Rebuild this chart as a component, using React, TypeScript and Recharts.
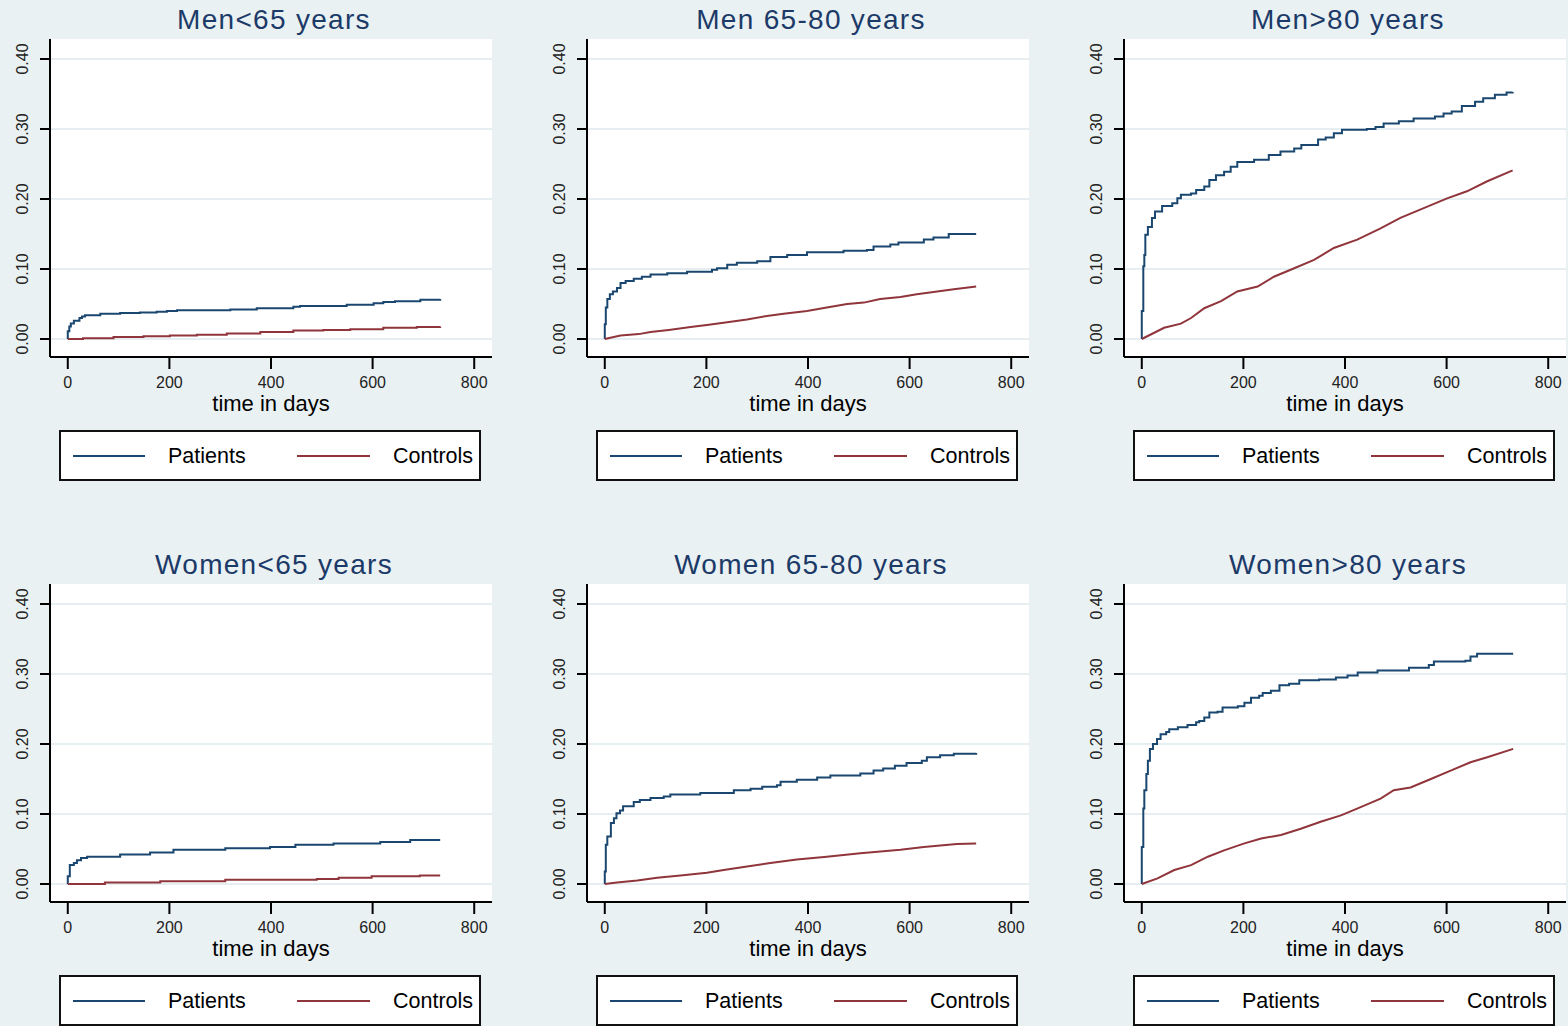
import React from 'react';
import { LineChart, Line, XAxis, YAxis, CartesianGrid, Legend } from 'recharts';

// ---------- data (days, cumulative incidence) ----------
const m65PatT = [0, 0, 3, 6, 12, 23, 28, 34, 64, 103, 142, 175, 195, 215, 320, 372, 444, 457, 549, 602, 621, 644, 694, 733];
const m65PatV = [0, 0.011, 0.018, 0.022, 0.026, 0.030, 0.032, 0.034, 0.036, 0.037, 0.038, 0.039, 0.040, 0.041, 0.042, 0.044, 0.046, 0.047, 0.049, 0.051, 0.053, 0.054, 0.056, 0.057];
const m65CtlT = [0, 30, 90, 149, 201, 254, 313, 379, 444, 503, 556, 621, 687, 733];
const m65CtlV = [0, 0.001, 0.003, 0.004, 0.005, 0.006, 0.008, 0.010, 0.012, 0.013, 0.014, 0.016, 0.017, 0.018];

const m6580PatT = [0, 0, 2, 5, 10, 16, 24, 31, 41, 57, 73, 90, 123, 162, 211, 221, 241, 260, 300, 326, 359, 398, 470, 516, 529, 562, 578, 628, 647, 677, 731];
const m6580PatV = [0, 0.021, 0.045, 0.057, 0.064, 0.068, 0.073, 0.080, 0.083, 0.086, 0.089, 0.092, 0.094, 0.096, 0.099, 0.101, 0.106, 0.109, 0.111, 0.117, 0.120, 0.124, 0.126, 0.127, 0.132, 0.135, 0.138, 0.142, 0.145, 0.150, 0.150];
const m6580CtlT = [0, 31, 67, 90, 126, 169, 201, 241, 280, 319, 352, 398, 437, 477, 510, 542, 582, 614, 647, 687, 731];
const m6580CtlV = [0, 0.005, 0.007, 0.010, 0.013, 0.017, 0.020, 0.024, 0.028, 0.033, 0.036, 0.040, 0.045, 0.050, 0.052, 0.057, 0.060, 0.064, 0.067, 0.071, 0.075];

const m80PatT = [0, 0, 3, 5, 7, 12, 20, 26, 40, 60, 70, 77, 97, 107, 123, 133, 146, 162, 175, 188, 221, 250, 273, 300, 314, 347, 362, 378, 394, 443, 460, 476, 506, 535, 577, 594, 610, 630, 656, 672, 695, 718, 730];
const m80PatV = [0, 0.040, 0.104, 0.120, 0.149, 0.160, 0.173, 0.182, 0.190, 0.194, 0.201, 0.206, 0.208, 0.213, 0.218, 0.227, 0.234, 0.239, 0.246, 0.253, 0.256, 0.263, 0.268, 0.272, 0.277, 0.285, 0.288, 0.294, 0.299, 0.300, 0.303, 0.308, 0.311, 0.315, 0.318, 0.322, 0.325, 0.333, 0.339, 0.344, 0.349, 0.352, 0.353];
const m80CtlT = [0, 44, 77, 97, 123, 156, 188, 228, 260, 293, 339, 378, 424, 470, 509, 555, 601, 640, 679, 730];
const m80CtlV = [0, 0.016, 0.022, 0.030, 0.044, 0.054, 0.068, 0.075, 0.089, 0.099, 0.113, 0.130, 0.142, 0.158, 0.173, 0.187, 0.201, 0.211, 0.225, 0.241];

const w65PatT = [0, 0, 4, 12, 18, 26, 38, 103, 162, 208, 310, 398, 448, 523, 615, 674, 733];
const w65PatV = [0, 0.011, 0.027, 0.030, 0.034, 0.037, 0.039, 0.042, 0.045, 0.049, 0.051, 0.053, 0.056, 0.058, 0.060, 0.063, 0.063];
const w65CtlT = [0, 73, 182, 310, 490, 533, 598, 693, 733];
const w65CtlV = [0, 0.002, 0.004, 0.006, 0.007, 0.009, 0.011, 0.012, 0.012];

const w6580PatT = [0, 0, 2, 5, 12, 18, 23, 30, 36, 57, 69, 90, 116, 129, 188, 254, 287, 310, 339, 346, 378, 418, 444, 503, 529, 548, 571, 594, 624, 634, 660, 687, 731];
const w6580PatV = [0, 0.018, 0.056, 0.068, 0.087, 0.094, 0.101, 0.105, 0.111, 0.117, 0.120, 0.123, 0.125, 0.128, 0.130, 0.134, 0.136, 0.139, 0.141, 0.146, 0.149, 0.152, 0.155, 0.158, 0.162, 0.165, 0.169, 0.173, 0.176, 0.181, 0.184, 0.186, 0.187];
const w6580CtlT = [0, 24, 64, 103, 149, 201, 234, 280, 326, 378, 437, 503, 582, 628, 693, 731];
const w6580CtlV = [0, 0.002, 0.005, 0.009, 0.012, 0.016, 0.020, 0.025, 0.030, 0.035, 0.039, 0.044, 0.049, 0.053, 0.057, 0.058];

const w80PatT = [0, 0, 3, 5, 9, 12, 16, 22, 30, 37, 48, 54, 71, 90, 107, 113, 123, 133, 149, 159, 189, 202, 215, 231, 238, 254, 271, 290, 310, 349, 382, 405, 425, 464, 526, 565, 575, 637, 647, 660, 731];
const w80PatV = [0, 0.053, 0.108, 0.134, 0.157, 0.176, 0.193, 0.200, 0.207, 0.214, 0.217, 0.221, 0.224, 0.227, 0.231, 0.233, 0.238, 0.245, 0.246, 0.252, 0.254, 0.259, 0.266, 0.269, 0.273, 0.276, 0.284, 0.286, 0.291, 0.292, 0.295, 0.298, 0.302, 0.305, 0.309, 0.313, 0.318, 0.319, 0.325, 0.329, 0.329];
const w80CtlT = [0, 31, 64, 97, 130, 162, 202, 235, 274, 313, 352, 392, 425, 470, 496, 529, 569, 608, 647, 680, 731];
const w80CtlV = [0, 0.008, 0.020, 0.027, 0.039, 0.048, 0.058, 0.065, 0.070, 0.079, 0.089, 0.098, 0.108, 0.122, 0.134, 0.138, 0.150, 0.162, 0.174, 0.181, 0.193];

const titles = ['Men<65 years', 'Men 65-80 years', 'Men>80 years', 'Women<65 years', 'Women 65-80 years', 'Women>80 years'];
const seriesNames = ['Patients', 'Controls'];
const xTicks = [0, 200, 400, 600, 800];
const yTicks = [0, 0.1, 0.2, 0.3, 0.4];
const xLabel = 'time in days';

// ---------- style ----------
const FONT = '"Liberation Sans", Arial, Helvetica, sans-serif';
const BG = '#EAF1F3';
const GRID = '#E6EEF1';
const BLUE = '#1a476f';
const RED = '#90353b';
const TITLE = '#1c3a68';

const zip = (t: number[], v: number[]) => t.map((x, i) => ({ t: x, v: v[i] }));

const panels = [
  { pat: zip(m65PatT, m65PatV), ctl: zip(m65CtlT, m65CtlV), ctlType: 'stepAfter' },
  { pat: zip(m6580PatT, m6580PatV), ctl: zip(m6580CtlT, m6580CtlV), ctlType: 'linear' },
  { pat: zip(m80PatT, m80PatV), ctl: zip(m80CtlT, m80CtlV), ctlType: 'linear' },
  { pat: zip(w65PatT, w65PatV), ctl: zip(w65CtlT, w65CtlV), ctlType: 'stepAfter' },
  { pat: zip(w6580PatT, w6580PatV), ctl: zip(w6580CtlT, w6580CtlV), ctlType: 'linear' },
  { pat: zip(w80PatT, w80PatV), ctl: zip(w80CtlT, w80CtlV), ctlType: 'linear' },
];

const YTick = (props: any) => {
  const { y, payload } = props;
  return (
    <text x={28} y={y} transform={`rotate(-90, 28, ${y})`} textAnchor="middle" fontSize={16} fill="#222" fontFamily={FONT}>
      {Number(payload.value).toFixed(2)}
    </text>
  );
};

const LegendBox = () => (
  <div style={{ position: 'relative', width: 422, height: 51, boxSizing: 'border-box', border: '2px solid #111', background: '#fff', fontFamily: FONT, fontSize: 21.5, color: '#000' }}>
    <div style={{ position: 'absolute', left: 12, top: 23, width: 72, height: 2, background: BLUE }} />
    <span style={{ position: 'absolute', left: 107, top: 14, lineHeight: '21.5px', whiteSpace: 'nowrap' }}>{seriesNames[0]}</span>
    <div style={{ position: 'absolute', left: 236, top: 23, width: 73, height: 2, background: RED }} />
    <span style={{ position: 'absolute', left: 332, top: 14, lineHeight: '21.5px', whiteSpace: 'nowrap' }}>{seriesNames[1]}</span>
  </div>
);

const Panel = ({ idx }: { idx: number }) => {
  const col = idx % 3;
  const row = Math.floor(idx / 3);
  const p = panels[idx];
  return (
    <div style={{ position: 'absolute', left: col * 537, top: row * 545, width: 494, height: 545 }}>
      <div style={{ position: 'absolute', left: 24, top: 6, width: 500, textAlign: 'center', fontFamily: FONT, fontSize: 28, lineHeight: '28px', letterSpacing: 1.3, color: TITLE, whiteSpace: 'nowrap' }}>
        {titles[idx]}
      </div>
      <div style={{ position: 'absolute', left: 0, top: 39 }}>
        <LineChart width={494} height={446} margin={{ top: 0, right: 2, bottom: 0, left: 0 }}>
          <CartesianGrid horizontal vertical={false} fill="#ffffff" stroke={GRID} strokeWidth={2} horizontalValues={yTicks} />
          <XAxis
            type="number"
            dataKey="t"
            domain={[-35, 835]}
            allowDataOverflow
            ticks={xTicks}
            height={77}
            tickSize={12}
            tickMargin={8}
            axisLine={{ stroke: '#000', strokeWidth: 2 }}
            tickLine={{ stroke: '#000', strokeWidth: 2 }}
            tick={{ fill: '#222', fontSize: 16, fontFamily: FONT }}
            label={{ value: xLabel, position: 'insideBottom', offset: 23, fill: '#000', fontSize: 22, fontFamily: FONT }}
          />
          <YAxis
            type="number"
            dataKey="v"
            domain={[-0.0257, 0.4286]}
            allowDataOverflow
            ticks={yTicks}
            width={50}
            tickSize={10}
            axisLine={{ stroke: '#000', strokeWidth: 2 }}
            tickLine={{ stroke: '#000', strokeWidth: 2 }}
            tick={<YTick />}
          />
          <Legend verticalAlign="bottom" content={<LegendBox />} wrapperStyle={{ left: 59, bottom: 4, width: 422, height: 51 }} />
          <Line data={p.pat} dataKey="v" name={seriesNames[0]} type="stepAfter" stroke={BLUE} strokeWidth={2} dot={false} isAnimationActive={false} />
          <Line data={p.ctl} dataKey="v" name={seriesNames[1]} type={p.ctlType as any} stroke={RED} strokeWidth={2} dot={false} isAnimationActive={false} />
        </LineChart>
      </div>
    </div>
  );
};

export default function App() {
  return (
    <div style={{ position: 'absolute', left: 0, top: 0, width: 1568, height: 1026, background: BG, overflow: 'hidden' }}>
      {titles.map((_, i) => (
        <Panel key={i} idx={i} />
      ))}
    </div>
  );
}
